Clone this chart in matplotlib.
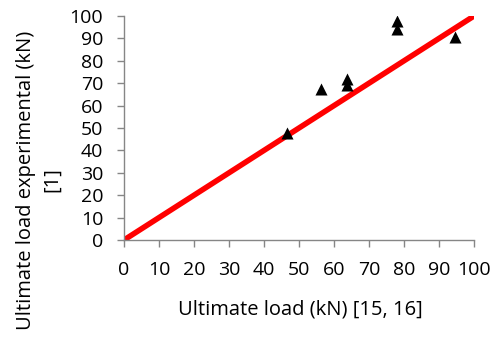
import matplotlib
matplotlib.use("Agg")
import matplotlib.pyplot as plt

x_pred = [46.5, 56.2, 63.6, 63.6, 78.1, 78.1, 94.6]
y_exp = [47.8, 67.6, 69.4, 71.9, 94.3, 97.8, 90.8]
line_x = [0, 100]
line_y = [0, 100]
ticks = list(range(0, 101, 10))

plt.rcParams['font.family'] = ['Open Sans', 'DejaVu Sans']

fig = plt.figure(figsize=(4.98, 3.43), dpi=100)
ax = fig.add_axes([124/498, 1-240/343, 350/498, 224/343])
ax.plot(line_x, line_y, color='#ff0000', lw=4, solid_capstyle='butt', zorder=2)
ax.scatter(x_pred, y_exp, marker='^', s=75, color='black', zorder=3, linewidths=0)
ax.set_xlim(0, 100)
ax.set_ylim(0, 100)
ax.set_xticks(ticks)
ax.set_yticks(ticks)
for s in ['top', 'right']:
    ax.spines[s].set_visible(False)
for s in ['left', 'bottom']:
    ax.spines[s].set_color('#868686')
    ax.spines[s].set_linewidth(1)
ax.tick_params(axis='both', colors='#868686', length=5, width=1, labelcolor='black', labelsize=14)
ax.tick_params(axis='x', pad=10)
ax.tick_params(axis='y', pad=10)
fig.text(300/498, 1-309/343, 'Ultimate load (kN) [15, 16]', ha='center', va='center', fontsize=14.5)
fig.text(26/498, 1-180/343, 'Ultimate load experimental (kN)', ha='center', va='center', rotation=90, fontsize=14.5)
fig.text(52/498, 1-180/343, '[1]', ha='center', va='center', rotation=90, fontsize=14.5)
fig.savefig('out.png', dpi=100)
